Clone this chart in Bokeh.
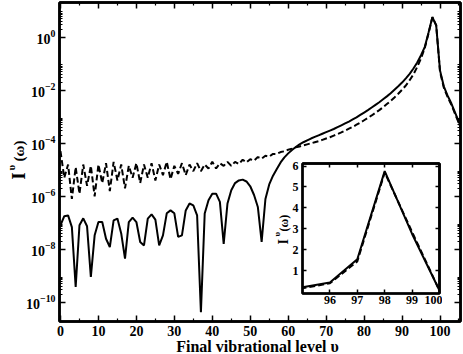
import numpy as np
from bokeh.plotting import figure
from bokeh.models import (Range1d, FixedTicker, LinearAxis, LogAxis,
                          LogTickFormatter, Label)
from bokeh.embed import file_html
from bokeh.resources import INLINE

# ---------------- data ----------------
levels = list(range(0, 107))

# log10 of I(omega) for the solid curve, v = 0 .. 106
solid_log10 = [
    -7.09, -6.75, -6.72, -7.16, -9.42, -7.09, -6.83, -7.13, -9.04, -7.47,
    -6.97, -6.97, -7.60, -7.91, -6.91, -6.84, -7.40, -8.35, -6.97, -6.80,
    -6.97, -7.72, -7.85, -6.84, -6.68, -6.88, -7.85, -7.47, -6.64, -6.53,
    -6.64, -7.53, -7.47, -6.53, -6.27, -6.34, -6.72, -10.37, -6.65, -6.15,
    -5.90, -5.90, -6.21, -7.79, -6.27, -5.77, -5.50, -5.40, -5.37, -5.44,
    -5.62, -5.95, -6.40, -7.72, -6.10, -5.55, -5.22, -4.97, -4.72, -4.53,
    -4.38, -4.25, -4.14, -4.04, -3.96, -3.89, -3.82, -3.76, -3.70, -3.64,
    -3.58, -3.52, -3.46, -3.39, -3.32, -3.25, -3.18, -3.10, -3.02, -2.93,
    -2.84, -2.75, -2.65, -2.55, -2.45, -2.34, -2.23, -2.11, -1.98, -1.85,
    -1.71, -1.55, -1.38, -1.18, -0.95, -0.68, -0.36, 0.19, 0.76, 0.44,
    -1.25, -1.85, -2.20, -2.50, -2.85, -3.20, -3.55,
]

# log10 of I(omega) for the dashed curve, v = 0 .. 106
dashed_log10 = [
    -4.30, -5.30, -4.80, -6.10, -4.90, -5.90, -4.80, -5.60, -4.85, -6.00,
    -4.80, -5.50, -4.75, -5.80, -4.70, -5.40, -4.80, -5.70, -4.85, -5.30,
    -4.75, -5.50, -4.80, -5.30, -4.75, -5.40, -4.80, -5.20, -4.70, -5.35,
    -4.85, -5.15, -4.75, -5.20, -4.80, -5.05, -4.75, -5.05, -4.80, -4.95,
    -4.70, -4.95, -4.75, -4.85, -4.70, -4.85, -4.70, -4.78, -4.62, -4.72,
    -4.60, -4.65, -4.52, -4.58, -4.47, -4.50, -4.40, -4.40, -4.33, -4.30,
    -4.24, -4.20, -4.15, -4.12, -4.08, -4.04, -4.00, -3.96, -3.92, -3.87,
    -3.82, -3.77, -3.71, -3.65, -3.59, -3.52, -3.45, -3.38, -3.30, -3.22,
    -3.13, -3.04, -2.95, -2.85, -2.75, -2.64, -2.52, -2.40, -2.27, -2.13,
    -1.98, -1.82, -1.62, -1.40, -1.12, -0.80, -0.40, 0.16, 0.755, 0.455,
    -1.30, -1.90, -2.25, -2.55, -2.90, -3.25, -3.60,
]

solid = [10.0 ** e for e in solid_log10]
dashed = [10.0 ** e for e in dashed_log10]

x_major = [0, 10, 20, 30, 40, 50, 60, 70, 80, 90, 100]
x_minor = [5, 15, 25, 35, 45, 55, 65, 75, 85, 95, 105]
y_major = [1e-10, 1e-8, 1e-6, 1e-4, 1e-2, 1e0]
y_minor = [k * 10.0 ** n for n in (-12, -10, -8, -6, -4, -2, 0) for k in range(2, 10)]
inset_x_ticks = [96, 97, 98, 99, 100]
inset_y_ticks = [1, 2, 3, 4, 5, 6]

x_title = "Final vibrational level υ"
y_title_parts = ["I", "υ", "(ω)"]

FONT = "Liberation Serif"
W, H = 463, 354


def style_axis(ax, tick_in=6, minor_in=3, font_size="14px", show_labels=True):
    ax.axis_line_color = "black"
    ax.axis_line_width = 2.5
    ax.major_tick_in = tick_in
    ax.major_tick_out = 0
    ax.minor_tick_in = minor_in
    ax.minor_tick_out = 0
    ax.major_tick_line_width = 1.5
    ax.minor_tick_line_width = 1.2
    ax.major_label_text_font = FONT
    ax.major_label_text_font_style = "bold"
    if show_labels:
        ax.major_label_text_color = "black"
        ax.major_label_text_font_size = font_size
        ax.major_label_standoff = 3
    else:
        ax.major_label_text_color = None
        ax.major_label_text_font_size = "1px"
        ax.major_label_standoff = 0


# ---------------- main figure ----------------
p = figure(width=W, height=H,
           x_range=Range1d(-0.26, 105.4),
           y_range=Range1d(10 ** -10.72, 10 ** 1.31),
           y_axis_type="log",
           output_backend="svg", toolbar_location=None,
           min_border_left=59, min_border_right=3,
           min_border_top=2, min_border_bottom=33)
p.grid.visible = False
p.outline_line_color = "black"
p.outline_line_width = 2.5
p.background_fill_color = "white"
p.border_fill_color = "white"

p.xaxis.ticker = FixedTicker(ticks=x_major, minor_ticks=x_minor)
p.yaxis.ticker = FixedTicker(ticks=y_major, minor_ticks=y_minor)
p.yaxis.formatter = LogTickFormatter()
style_axis(p.xaxis[0], font_size="14px")
style_axis(p.yaxis[0], font_size="14px")
p.xaxis.major_label_standoff = 4
p.yaxis.major_label_standoff = 4

top_ax = LinearAxis(ticker=FixedTicker(ticks=x_major, minor_ticks=x_minor))
style_axis(top_ax, show_labels=False)
p.add_layout(top_ax, "above")
right_ax = LogAxis(ticker=FixedTicker(ticks=y_major, minor_ticks=y_minor))
style_axis(right_ax, show_labels=False)
p.add_layout(right_ax, "right")

p.line(levels, dashed, line_color="black", line_width=2, line_dash="6 3")
p.line(levels, solid, line_color="black", line_width=2)

# ---------------- inset ----------------
pi = figure(frame_width=137, frame_height=130,
            x_range=Range1d(95, 100), y_range=Range1d(-0.09, 6.12),
            output_backend="svg", toolbar_location=None,
            min_border_left=20, min_border_right=3,
            min_border_top=3, min_border_bottom=18)
pi.grid.visible = False
pi.background_fill_color = "white"
pi.border_fill_color = None
pi.outline_line_color = "black"
pi.outline_line_width = 2.5
pi.xaxis.ticker = FixedTicker(ticks=inset_x_ticks)
pi.yaxis.ticker = FixedTicker(ticks=inset_y_ticks)
style_axis(pi.xaxis[0], tick_in=4, minor_in=0, font_size="12px")
style_axis(pi.yaxis[0], tick_in=4, minor_in=0, font_size="12px")
pi.xaxis.axis_line_width = 2
pi.yaxis.axis_line_width = 2
pi.xaxis.major_label_standoff = 2
pi.yaxis.major_label_standoff = 4
it = LinearAxis(ticker=FixedTicker(ticks=inset_x_ticks))
style_axis(it, tick_in=4, minor_in=0, show_labels=False)
pi.add_layout(it, "above")
ir = LinearAxis(ticker=FixedTicker(ticks=inset_y_ticks))
style_axis(ir, tick_in=4, minor_in=0, show_labels=False)
pi.add_layout(ir, "right")

pi.line(levels, dashed, line_color="black", line_width=2, line_dash="6 3")
pi.line(levels, solid, line_color="black", line_width=2)

pi.styles = {"position": "absolute", "left": "282px", "top": "160px",
             "z-index": "10"}

# ---------------- text overlay (axis titles) ----------------
pt = figure(width=W, height=H, x_range=Range1d(0, W), y_range=Range1d(0, H),
            output_backend="svg", toolbar_location=None,
            x_axis_location=None, y_axis_location=None,
            min_border=0, min_border_left=0, min_border_right=0,
            min_border_top=0, min_border_bottom=0)
pt.grid.visible = False
pt.background_fill_color = None
pt.border_fill_color = None
pt.outline_line_color = None
pt.styles = {"position": "absolute", "left": "0px", "top": "0px",
             "z-index": "20", "pointer-events": "none"}


def add_text(fig, px, py, text, size, angle=0.0, align="left"):
    fig.add_layout(Label(x=px, y=H - py, text=text, text_font=FONT,
                         text_font_style="bold", text_font_size=size,
                         angle=angle, text_align=align,
                         text_baseline="alphabetic", text_color="black"))


add_text(pt, 257, 346, x_title, "16px", align="center")
# main y title  I^υ(ω), rotated
add_text(pt, 18, 179, y_title_parts[0], "18px", angle=np.pi / 2)
add_text(pt, 10, 170, y_title_parts[1], "11px", angle=np.pi / 2)
add_text(pt, 18, 161, y_title_parts[2], "15px", angle=np.pi / 2)
# inset y title
add_text(pt, 283, 244, y_title_parts[0], "14px", angle=np.pi / 2)
add_text(pt, 276, 236, y_title_parts[1], "9px", angle=np.pi / 2)
add_text(pt, 283, 231, y_title_parts[2], "12px", angle=np.pi / 2)

open("out.html", "w").write(file_html([p, pi, pt], INLINE))
